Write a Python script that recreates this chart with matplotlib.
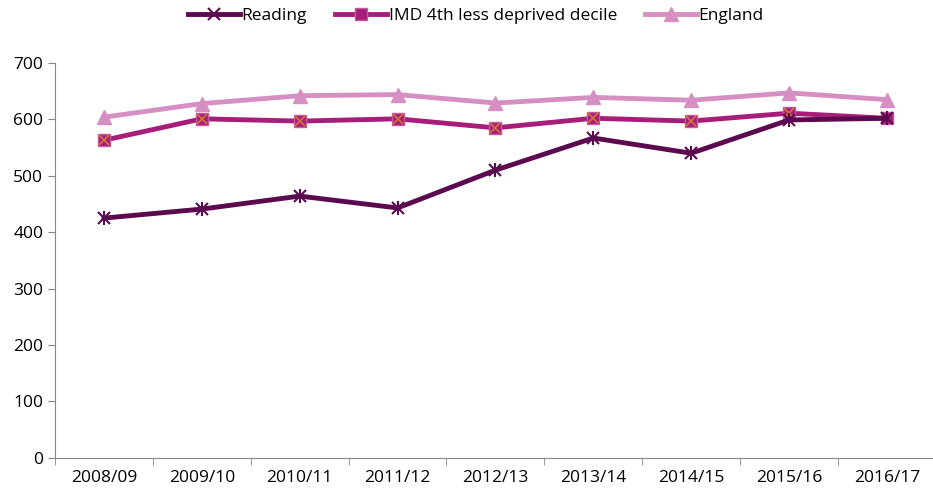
import matplotlib.pyplot as plt
import numpy as np

years = ['2008/09', '2009/10', '2010/11', '2011/12', '2012/13',
         '2013/14', '2014/15', '2015/16', '2016/17']
reading = [425, 441, 464, 443, 510, 567, 540, 599, 602]
imd = [563, 601, 597, 601, 585, 602, 597, 611, 602]
england = [604, 628, 642, 644, 629, 639, 634, 647, 635]

plt.rcParams['font.family'] = ['Open Sans', 'DejaVu Sans']

fig = plt.figure(figsize=(9.33, 4.96), dpi=100)
ax = fig.add_axes([0.059, 0.077, 0.944, 0.796])

x = np.arange(len(years))
ax.plot(x, reading, color='#5c0a4f', lw=3.5, marker='x', ms=8, mew=1.5,
        label='Reading', zorder=3)
ax.plot(x, reading, ls='none', marker='|', ms=10, mew=1.5, color='#5c0a4f', zorder=3)
ax.plot(x, imd, color='#a71e7a', lw=3.5, marker='s', ms=9,
        mfc='#a71e7a', mec='#c85a9c', label='IMD 4th less deprived decile', zorder=2)
ax.plot(x, imd, ls='none', marker='x', ms=7, mew=1.2, color='#d4763a', zorder=2.5)
ax.plot(x, england, color='#d68fc2', lw=3.5, marker='^', ms=10,
        label='England', zorder=1)

ax.set_xlim(-0.5, len(years) - 0.5)
ax.set_ylim(0, 700)
ax.set_yticks(range(0, 701, 100))
ax.set_xticks(x)
ax.set_xticklabels(years)
ax.set_xticks(np.arange(-0.5, len(years)), minor=True)
ax.tick_params(axis='x', which='major', length=0, pad=9, labelsize=12.5)
ax.tick_params(axis='x', which='minor', length=5, color='#868686')
ax.tick_params(axis='y', length=5, color='#868686', labelsize=12.5)
for s in ['top', 'right']:
    ax.spines[s].set_visible(False)
for s in ['left', 'bottom']:
    ax.spines[s].set_color('#868686')

fig.legend(loc='upper center', bbox_to_anchor=(0.51, 1.015), ncol=3, frameon=False,
           fontsize=12.5, handlelength=3.0, columnspacing=1.6, handletextpad=0.1)

fig.savefig('out.png')
